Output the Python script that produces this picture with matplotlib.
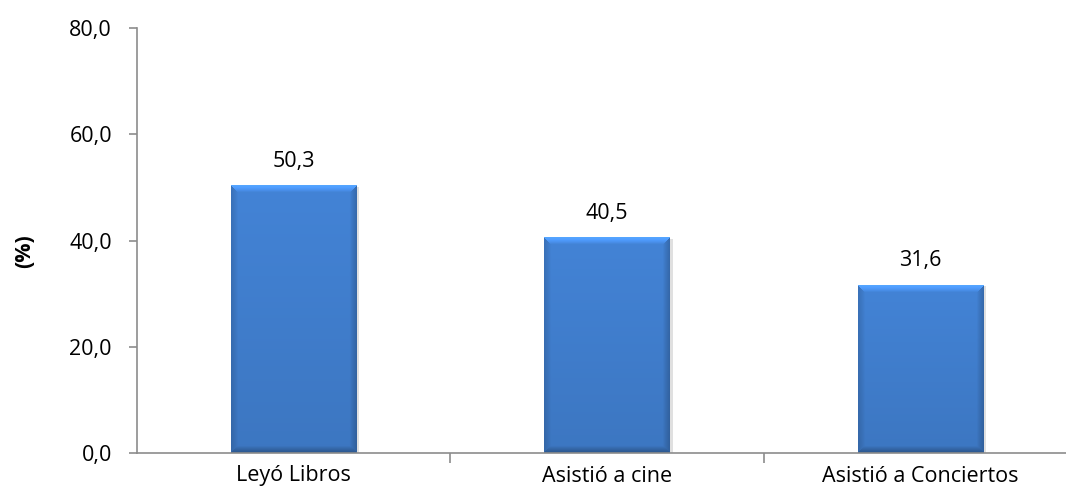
import numpy as np
import matplotlib
matplotlib.use("Agg")
import matplotlib.pyplot as plt
from matplotlib.ticker import FixedLocator

categories = ["Leyó Libros", "Asistió a cine", "Asistió a Conciertos"]
values = [50.3, 40.5, 31.6]
yticks = [0, 20, 40, 60, 80]

plt.rcParams['font.family'] = ['Open Sans', 'DejaVu Sans']

W, H = 1066, 492
fig = plt.figure(figsize=(W / 100, H / 100), dpi=100)
ax = fig.add_axes([137 / W, 1 - 453 / H, 1 - 137 / W, (453 - 28) / H])

x = np.arange(len(categories))
bw = 0.40
ax.set_xlim(-0.5, 2.465)
ax.set_ylim(0, 80)

bars = ax.bar(x, values, width=bw, color='#3F7DCB', zorder=2)

px_per_x = (W - 137) / (2.465 + 0.5)
px_per_y = (453 - 28) / 80.0
FS = 15.5


def bevel_img(wpx, hpx, b=7):
    xx = np.arange(wpx) + 0.5
    yy = np.arange(hpx) + 0.5
    X, Y = np.meshgrid(xx, yy)
    d = np.stack([Y, hpx - Y, X, wpx - X])
    m = d.argmin(0)
    dmin = d.min(0)
    base = np.array([0.255, 0.50, 0.815])
    t = Y / max(hpx, 1)
    img = base[None, None, :] * (1.03 - 0.10 * t)[..., None]
    factors = np.array([1.28, 0.72, 0.86, 0.80])
    f = factors[m]
    w = np.clip(1 - dmin / b, 0, 1) ** 0.8
    img = img * ((1 - w) + f * w)[..., None]
    return np.clip(img, 0, 1)


for b, v in zip(bars, values):
    x0 = b.get_x()
    x1 = x0 + b.get_width()
    wpx = int(round(b.get_width() * px_per_x))
    hpx = int(round(v * px_per_y))
    ax.bar(b.get_x() + b.get_width() / 2 + 3 / px_per_x, v - 1 / px_per_y,
           width=b.get_width(), color='#000000', alpha=0.12, zorder=1)
    ax.imshow(bevel_img(wpx, hpx), extent=(x0, x1, 0, v), origin='upper',
              aspect='auto', zorder=3, interpolation='bilinear')
    ax.annotate(f"{v:.1f}".replace('.', ','), (b.get_x() + b.get_width() / 2, v),
                xytext=(0, 10), textcoords='offset points', ha='center', va='bottom',
                fontsize=FS, color='#000000', zorder=5)

ax.set_xlim(-0.5, 2.465)
ax.set_ylim(0, 80)

for s in ['top', 'right']:
    ax.spines[s].set_visible(False)
for s in ['left', 'bottom']:
    ax.spines[s].set_color('#8C8C8C')
    ax.spines[s].set_linewidth(1.2)
    ax.spines[s].set_zorder(4)

ax.set_yticks(yticks)
ax.set_yticklabels([f"{t:.1f}".replace('.', ',') for t in yticks], fontsize=FS)
ax.tick_params(axis='y', direction='out', length=6, width=1.2, color='#8C8C8C', pad=12)

ax.set_xticks(x)
ax.set_xticklabels(categories, fontsize=FS)
ax.tick_params(axis='x', which='major', length=0, pad=9)
ax.xaxis.set_minor_locator(FixedLocator([0.5, 1.5]))
ax.tick_params(axis='x', which='minor', direction='out', length=7, width=1.2, color='#8C8C8C')

ax.set_ylabel("(%)", fontsize=FS, fontweight='bold')
ax.yaxis.set_label_coords(-0.11, 0.475)

fig.savefig("out.png", dpi=100)
